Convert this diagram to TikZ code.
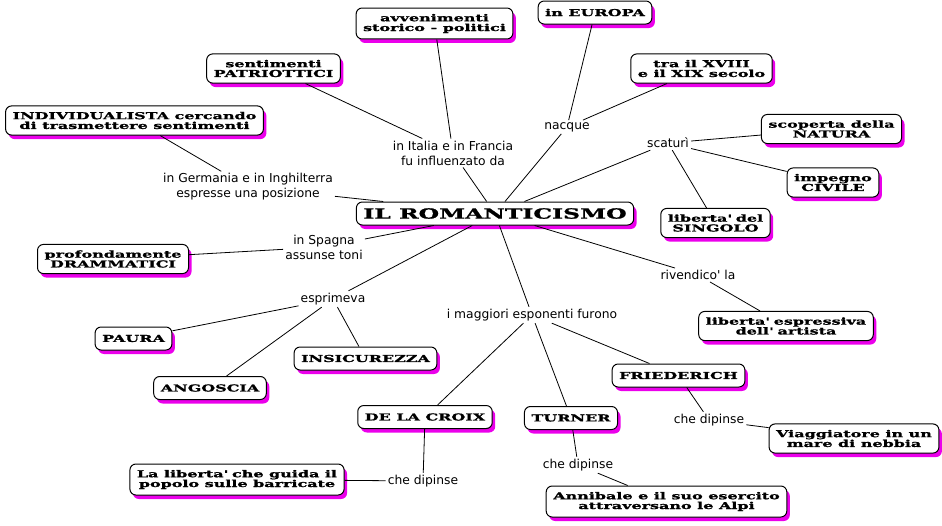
\documentclass[tikz,border=0pt]{standalone}
\usepackage{fontspec}
\setmainfont{DejaVu Sans}
\newfontfamily\conceptfont[FakeStretch=1.68,BoldFeatures={FakeBold=1.3}]{DejaVu Serif}
\usetikzlibrary{shadows}
\definecolor{cmapMagenta}{RGB}{235,0,235}

\begin{document}
\begin{tikzpicture}[x=1pt,y=-1pt,
    concept/.style={draw=black,fill=white,rounded corners=6pt,line width=1pt,
                    align=center,inner xsep=7pt,inner ysep=6pt,minimum height=23pt,
                    font=\conceptfont\bfseries\fontsize{9.5}{9.8}\selectfont,
                    drop shadow={fill=cmapMagenta,opacity=1,
                                 shadow xshift=3pt,shadow yshift=-4pt}},
    link/.style={align=center,inner sep=2pt,font=\fontsize{12.3}{15}\selectfont},
    conn/.style={line width=0.8pt}]

    \useasboundingbox (0,0) rectangle (942,525);

    % concepts
    \node[concept,inner ysep=5pt,font=\conceptfont\bfseries\fontsize{14}{14}\selectfont]
      (rom) at (495,213.5) {IL ROMANTICISMO};
    \node[concept] (avv) at (434.5,23.5) {avvenimenti\\storico - politici};
    \node[concept] (europa) at (595,12.5) {in EUROPA};
    \node[concept] (patr) at (273.5,68.5) {sentimenti\\PATRIOTTICI};
    \node[concept] (indiv) at (134.5,120.5)
      {INDIVIDUALISTA cercando\\di trasmettere sentimenti};
    \node[concept] (secolo) at (701.5,68.5) {tra il XVIII\\e il XIX secolo};
    \node[concept] (natura) at (831.5,129) {scoperta della\\NATURA};
    \node[concept] (civile) at (833,182.5) {impegno\\CIVILE};
    \node[concept] (singolo) at (715.5,223) {liberta\textquotesingle{} del\\SINGOLO};
    \node[concept] (dramm) at (113,259) {profondamente\\DRAMMATICI};
    \node[concept] (paura) at (133.5,338.5) {PAURA};
    \node[concept] (insic) at (365.5,358.5) {INSICUREZZA};
    \node[concept] (angos) at (210,388) {ANGOSCIA};
    \node[concept] (espr) at (786,326)
      {liberta\textquotesingle{} espressiva\\dell\textquotesingle{} artista};
    \node[concept] (fried) at (678.5,375.5) {FRIEDERICH};
    \node[concept] (turner) at (571,418) {TURNER};
    \node[concept] (croix) at (425,417) {DE LA CROIX};
    \node[concept] (popolo) at (237,479.5)
      {La liberta\textquotesingle{} che guida il\\popolo sulle barricate};
    \node[concept] (viagg) at (854,438.5) {Viaggiatore in un\\mare di nebbia};
    \node[concept] (annib) at (666.5,501.5)
      {Annibale e il suo esercito\\attraversano le Alpi};

    % linking phrases
    \node[link] (infl) at (453,153) {in Italia e in Francia\\fu influenzato da};
    \node[link] (nacque) at (567,127) {nacque};
    \node[link] (scat) at (668,143) {scaturì};
    \node[link] (germ) at (248,187)
      {in Germania e in Inghilterra\\espresse una posizione};
    \node[link] (spagna) at (324,247) {in Spagna\\assunse toni};
    \node[link] (espri) at (333,299) {esprimeva};
    \node[link] (magg) at (532,315) {i maggiori esponenti furono};
    \node[link] (rivend) at (698,275) {rivendico\textquotesingle{} la};
    \node[link] (dipF) at (709,420) {che dipinse};
    \node[link] (dipT) at (578,465) {che dipinse};
    \node[link] (dipC) at (423,481) {che dipinse};

    % connectors
    \draw[conn] (rom) -- (infl);
    \draw[conn] (infl) -- (patr);
    \draw[conn] (infl) -- (avv);
    \draw[conn] (rom) -- (nacque);
    \draw[conn] (nacque) -- (europa);
    \draw[conn] (nacque) -- (secolo);
    \draw[conn] (rom) -- (scat);
    \draw[conn] (scat) -- (natura);
    \draw[conn] (scat) -- (civile);
    \draw[conn] (scat) -- (singolo);
    \draw[conn] (rom) -- (germ);
    \draw[conn] (germ) -- (indiv);
    \draw[conn] (rom) -- (spagna);
    \draw[conn] (spagna) -- (dramm);
    \draw[conn] (rom) -- (espri);
    \draw[conn] (espri) -- (paura);
    \draw[conn] (espri) -- (angos);
    \draw[conn] (espri) -- (insic);
    \draw[conn] (rom) -- (magg);
    \draw[conn] (magg) -- (croix);
    \draw[conn] (magg) -- (turner);
    \draw[conn] (magg) -- (fried);
    \draw[conn] (rom) -- (rivend);
    \draw[conn] (rivend) -- (espr);
    \draw[conn] (fried) -- (dipF);
    \draw[conn] (dipF) -- (viagg);
    \draw[conn] (turner) -- (dipT);
    \draw[conn] (dipT) -- (annib);
    \draw[conn] (croix) -- (dipC);
    \draw[conn] (dipC) -- (popolo);
\end{tikzpicture}
\end{document}
